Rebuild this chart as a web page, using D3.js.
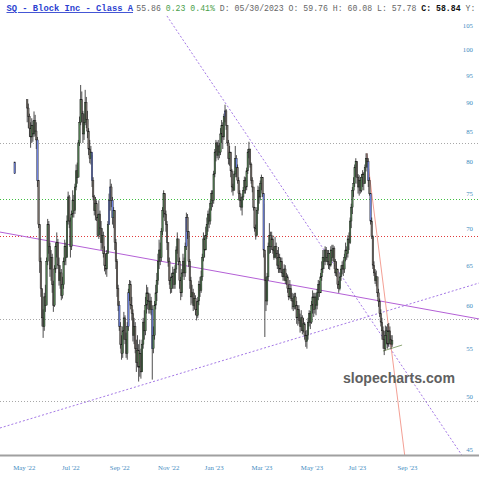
<!DOCTYPE html>
<html>
<head>
<meta charset="utf-8">
<script src="https://cdnjs.cloudflare.com/ajax/libs/d3/7.8.5/d3.min.js"></script>
<style>
  body { margin: 0; background: #fff; }
  svg { display: block; }
</style>
</head>
<body>
<div id="chart"></div>
<script>
// daily bars, index 0 is a lone early print, then a gap
const closes = [78.1,
  null, null, null, null, null, null, null, null, null, null,
  89.0, 87.5, 85.5, 84.0, 86.0, 84.5, 86.8, 85.0, 83.5,
  77.0, 70.5, 65.5, 62.0, 58.5, 57.5, 61.0, 60.0, 65.5, 70.5,
  67.5, 64.5, 66.0, 62.5, 60.0, 64.5, 67.5, 68.0, 65.0, 63.0,
  64.0, 61.2, 62.5, 65.5, 67.5, 66.0, 71.0, 74.5, 71.0, 67.5,
  72.0, 74.0, 72.5, 76.0, 78.5, 77.5, 83.0, 86.5, 90.5, 88.0,
  84.5, 86.5, 90.0, 87.0, 85.0, 82.0, 80.5, 81.5, 77.0, 74.5,
  72.5, 73.5, 71.5, 69.0, 72.0, 70.0, 68.0, 69.0, 66.5, 65.0,
  64.5, 66.5, 70.5, 74.0, 76.0, 74.0, 71.5, 72.5, 68.0, 65.5,
  62.0, 60.0, 57.5, 55.5, 54.5, 57.0, 58.5, 56.0, 54.5, 57.5,
  61.5, 62.5, 60.0, 59.0, 56.5, 57.5, 55.0, 53.5, 54.8, 53.0,
  54.5, 52.5, 55.5, 58.0, 57.0, 60.0, 61.5, 60.5, 59.5, 60.5,
  59.5, 55.0, 56.5, 60.0, 61.5, 63.0, 65.5, 67.0, 66.0, 69.5,
  72.5, 75.0, 72.0, 70.5, 68.0, 65.5, 63.0, 62.0, 63.5, 64.0,
  62.5, 64.5, 67.0, 68.5, 65.5, 63.0, 61.5, 64.0, 65.5, 64.0,
  67.5, 71.5, 69.5, 65.5, 63.0, 61.0, 61.5, 60.0, 60.8, 59.5,
  58.8, 60.5, 62.5, 61.8, 63.5, 66.0, 68.5, 67.0, 69.0, 70.5,
  72.0, 71.0, 73.5, 75.0, 74.0, 78.0, 81.5, 83.0, 81.0, 82.5,
  81.5, 84.5, 86.0, 84.0, 87.5, 88.5, 86.0, 83.0, 80.5, 81.5,
  78.5, 76.0, 75.5, 78.0, 80.5, 79.0, 77.0, 75.0, 74.0, 73.0,
  74.5, 75.5, 77.0, 76.0, 78.5, 81.5, 82.0, 79.5, 77.0, 76.0,
  73.0, 70.0, 69.0, 72.5, 75.5, 74.5, 76.5, 77.5, 75.0, 67.0,
  63.0, 60.5, 63.5, 67.5, 69.0, 67.5, 68.5, 67.0, 66.0, 67.5,
  66.5, 65.0, 66.0, 64.5, 65.5, 64.0, 63.5, 64.5, 63.0, 63.5,
  62.0, 61.0, 62.0, 60.8, 60.5, 59.8, 61.0, 60.0, 58.5, 59.5,
  58.2, 57.5, 58.5, 57.0, 57.8, 56.5, 55.8, 56.5, 58.0, 59.0,
  58.0, 60.0, 61.0, 59.5, 61.0, 60.0, 61.5, 62.5, 61.5, 63.5,
  64.5, 66.0, 65.5, 67.0, 66.0, 65.5, 66.5, 65.0, 67.0, 66.0,
  67.2, 65.5, 64.0, 64.5, 62.5, 62.0, 63.5, 64.5, 65.0, 64.5,
  66.0, 67.0, 66.5, 68.5, 68.0, 71.0, 73.0, 75.5, 76.5, 79.0,
  80.0, 77.5, 76.0, 77.0, 75.5, 77.5, 78.0, 76.5, 79.0, 80.5,
  80.0, 77.0, 75.0, 71.0, 68.8, 65.0, 64.0, 63.0, 63.5, 61.5,
  60.5, 59.0, 58.0, 57.0, 56.0, 55.0, 56.5, 57.0, 55.5, 57.0,
  56.0, 55.5, 55.9];

const highs = [79.9,
  null, null, null, null, null, null, null, null, null, null,
  90.5, 89.8, 88.0, 86.5, 87.2, 86.8, 88.4, 87.8, 86.5,
  84.0, 76.0, 70.5, 66.0, 62.0, 59.5, 61.5, 62.5, 66.0, 71.3,
  71.0, 68.0, 67.0, 66.5, 63.0, 65.0, 68.0, 69.4, 68.5, 66.0,
  65.0, 64.5, 63.5, 66.0, 68.4, 68.0, 71.8, 75.3, 74.8, 71.5,
  72.5, 75.5, 74.8, 76.5, 79.5, 79.8, 83.5, 87.5, 93.2, 92.0,
  88.5, 88.0, 92.3, 91.0, 88.5, 85.5, 83.5, 82.5, 81.0, 77.5,
  74.8, 74.5, 74.0, 72.0, 74.0, 72.5, 71.0, 70.0, 69.5, 67.5,
  66.5, 67.0, 71.0, 75.0, 77.2, 76.5, 74.5, 73.0, 72.5, 68.5,
  65.8, 62.5, 60.5, 58.0, 56.5, 57.5, 59.2, 58.8, 56.8, 58.0,
  62.0, 63.1, 63.0, 61.0, 59.5, 58.5, 58.0, 56.0, 56.5, 55.5,
  56.0, 55.0, 56.0, 58.5, 59.4, 61.0, 62.5, 62.2, 61.5, 61.4,
  61.0, 60.0, 57.5, 60.5, 62.5, 64.0, 66.5, 68.4, 68.0, 70.0,
  73.0, 75.5, 75.0, 72.5, 71.0, 68.0, 66.0, 63.5, 64.0, 64.8,
  64.5, 65.0, 67.5, 69.4, 68.5, 66.0, 63.5, 64.5, 66.5, 66.0,
  68.0, 72.2, 72.0, 69.5, 65.8, 63.5, 62.5, 62.0, 61.5, 61.2,
  60.5, 61.0, 63.0, 63.5, 64.3, 66.5, 69.4, 69.0, 70.2, 71.5,
  72.5, 72.8, 74.0, 75.5, 75.5, 78.5, 82.0, 83.5, 83.2, 83.5,
  83.0, 85.5, 86.9, 86.5, 88.0, 89.6, 88.8, 86.0, 83.5, 82.5,
  81.5, 78.8, 76.5, 78.5, 82.5, 81.0, 79.5, 77.5, 75.5, 74.5,
  75.0, 76.0, 77.6, 77.5, 79.0, 82.0, 83.2, 82.0, 79.8, 77.5,
  76.0, 73.0, 70.5, 73.0, 76.2, 76.0, 77.0, 77.9, 77.5, 73.5,
  66.5, 63.5, 64.0, 68.0, 70.7, 69.5, 69.5, 69.0, 67.5, 68.8,
  68.0, 67.0, 67.4, 66.5, 66.0, 66.0, 64.5, 65.1, 65.0, 64.0,
  63.8, 62.5, 63.1, 62.5, 61.5, 61.4, 61.5, 61.5, 60.5, 60.0,
  60.0, 59.0, 59.4, 58.8, 58.5, 58.0, 57.0, 57.1, 58.5, 59.4,
  59.3, 60.5, 61.8, 61.5, 61.5, 61.5, 62.0, 63.1, 63.0, 64.0,
  65.5, 67.0, 67.0, 67.5, 67.4, 67.0, 67.0, 66.6, 67.5, 67.7,
  67.7, 67.5, 65.8, 65.5, 64.5, 63.0, 64.0, 65.0, 65.5, 65.7,
  66.5, 68.0, 67.5, 69.0, 69.4, 71.5, 73.5, 76.0, 77.5, 79.5,
  80.5, 80.0, 78.0, 77.8, 77.5, 78.0, 78.6, 78.3, 79.5, 81.3,
  81.3, 80.5, 77.5, 75.0, 71.5, 69.0, 65.5, 64.5, 64.3, 63.5,
  62.0, 60.8, 59.5, 58.5, 57.5, 57.0, 57.6, 57.5, 57.8, 57.9,
  57.5, 56.5, 56.5];

const lows = [78.0,
  null, null, null, null, null, null, null, null, null, null,
  86.5, 85.5, 84.0, 82.2, 83.0, 83.2, 84.0, 84.2, 82.0,
  76.0, 70.0, 64.0, 61.0, 57.5, 56.2, 57.0, 59.2, 60.0, 65.0,
  66.5, 63.5, 63.0, 61.5, 59.2, 59.8, 64.0, 66.0, 64.5, 62.4,
  62.0, 60.6, 60.8, 62.0, 65.0, 65.0, 66.0, 70.5, 70.0, 66.0,
  67.0, 71.5, 71.5, 72.0, 75.5, 76.5, 77.5, 82.5, 86.0, 86.5,
  83.0, 83.5, 86.0, 85.5, 83.8, 81.0, 79.7, 79.5, 76.0, 74.0,
  71.8, 71.1, 71.0, 68.8, 68.5, 69.0, 67.0, 67.2, 66.0, 64.2,
  63.8, 63.5, 66.5, 70.5, 72.5, 73.0, 70.5, 70.0, 67.0, 64.5,
  61.0, 59.3, 57.0, 55.0, 53.8, 54.0, 56.0, 55.5, 54.0, 53.8,
  57.0, 60.5, 59.5, 58.2, 55.8, 55.5, 54.5, 52.5, 53.0, 51.5,
  52.0, 51.8, 52.5, 55.0, 56.0, 56.5, 59.0, 59.5, 59.0, 59.0,
  58.8, 51.7, 54.5, 56.0, 59.5, 60.5, 62.5, 64.5, 65.0, 65.5,
  69.0, 71.5, 71.0, 69.5, 67.0, 64.8, 62.5, 61.4, 61.5, 62.0,
  62.0, 62.0, 64.0, 66.5, 65.0, 62.0, 60.6, 61.0, 63.5, 63.1,
  63.5, 67.0, 68.5, 64.8, 62.0, 60.0, 60.2, 59.3, 59.5, 58.8,
  58.2, 58.5, 60.0, 61.0, 61.5, 63.0, 65.5, 66.0, 67.0, 68.5,
  69.5, 70.0, 70.5, 72.5, 73.0, 73.5, 77.5, 80.0, 80.5, 80.2,
  80.5, 81.0, 83.0, 82.0, 83.5, 86.5, 85.2, 82.5, 79.5, 79.3,
  77.5, 75.2, 74.7, 75.5, 77.5, 77.5, 76.5, 74.0, 73.0, 72.5,
  71.8, 74.0, 75.0, 75.0, 75.5, 78.0, 80.5, 79.0, 76.5, 75.2,
  72.5, 69.5, 68.4, 68.8, 72.0, 73.5, 74.0, 75.5, 74.5, 66.0,
  56.3, 59.3, 60.0, 63.0, 66.5, 66.6, 67.0, 66.5, 65.7, 66.0,
  65.8, 64.5, 64.0, 64.0, 64.0, 63.5, 63.0, 63.0, 62.6, 62.5,
  61.5, 60.6, 60.8, 60.5, 59.5, 59.3, 59.5, 59.5, 57.8, 57.6,
  57.8, 56.8, 57.0, 56.6, 56.8, 56.0, 55.2, 55.0, 56.0, 57.5,
  57.2, 57.8, 59.0, 58.6, 59.0, 58.8, 59.5, 60.6, 61.0, 61.5,
  63.0, 64.0, 64.5, 65.0, 65.4, 65.0, 64.5, 64.4, 64.8, 65.5,
  65.5, 64.5, 63.6, 63.5, 62.0, 61.5, 61.8, 63.0, 63.8, 63.6,
  64.0, 65.5, 65.7, 66.0, 67.0, 67.8, 70.0, 72.0, 74.5, 76.0,
  77.5, 76.5, 75.0, 74.7, 75.0, 75.2, 76.0, 75.5, 76.5, 78.4,
  79.0, 76.0, 74.7, 70.5, 68.5, 64.5, 63.6, 62.6, 62.3, 61.0,
  59.8, 58.6, 57.5, 56.0, 55.0, 54.3, 54.8, 55.5, 55.0, 55.2,
  55.5, 55.0, 55.2];

// bars drawn in blue on the original chart
const blueDays = [0, 20, 68, 83, 84, 86, 92, 100, 121, 151, 185, 195, 219, 311, 313];

const tickLabels = ["May '22", "Jul '22", "Sep '22", "Nov '22", "Jan '23", "Mar '23", "May '23", "Jul '23", "Sep '23"];
const tickDays = [8, 49, 92, 135, 175, 217, 261, 301, 345];
const priceTicks = [45, 50, 55, 60, 65, 70, 75, 80, 85, 90, 95, 100, 105];

// horizontal levels (price)
const levels = [82.94, 74.15, 68.94, 58.37, 49.54];

// trend lines as [day, price, day, price]
const trendSolid = [[-13, 69.45, 408.4, 58.37]];
const trendDotted = [[-13, 46.93, 408.4, 62.72], [133.9, 107.0, 393.8, 44.37]];
const trendRed = [[309.6, 81.3, 343.1, 44.37]];
const trendGreen = [[323.9, 54.74, 340.7, 55.4]];

let width = 479, height = 480;

let svg = d3.select("#chart").append("svg")
    .attr("width", width)
    .attr("height", height);

svg.append("rect").attr("width", width).attr("height", height).attr("fill", "#fff");

let x = d3.scaleLinear().domain([0, 345]).range([14.7, 14.7 + 345 * 1.137]);
let y = d3.scaleLog().domain([45, 105]).range([449, 25.4]);

svg.append("defs").append("clipPath").attr("id", "plot")
    .append("rect").attr("x", 0).attr("y", 14).attr("width", width).attr("height", 442);

let plot = svg.append("g").attr("clip-path", "url(#plot)");

// levels, snapped to the pixel grid so the dots stay crisp
let levelColors = ["#a8a8a8", "#3fbf3f", "#e03a3a", "#a8a8a8", "#a8a8a8"];
plot.selectAll("line.level")
    .data(levels)
    .enter().append("line")
    .attr("class", "level")
    .attr("x1", 0).attr("x2", width)
    .attr("y1", d => Math.round(y(d)) + 0.5).attr("y2", d => Math.round(y(d)) + 0.5)
    .attr("stroke", (d, i) => levelColors[i])
    .attr("stroke-width", 1)
    .attr("stroke-dasharray", "1,2");

let drawTrend = (data, color, dash, w) => {
    plot.selectAll(null)
        .data(data)
        .enter().append("line")
        .attr("x1", d => x(d[0])).attr("y1", d => y(d[1]))
        .attr("x2", d => x(d[2])).attr("y2", d => y(d[3]))
        .attr("stroke", color)
        .attr("stroke-width", w)
        .attr("stroke-dasharray", dash);
};

drawTrend(trendSolid, "#b460d6", null, 1);
drawTrend(trendDotted, "#a478e6", "2,2", 1);
drawTrend(trendRed, "#f29488", null, 0.9);
drawTrend(trendGreen, "#8ea876", null, 1);

// candles
let candles = [];
closes.forEach((c, i) => {
    if (c == null) return;
    let prev = i > 0 ? closes[i - 1] : null;
    candles.push({
        i: i,
        open: prev == null ? highs[i] : prev,
        high: highs[i],
        low: lows[i],
        close: c,
        blue: blueDays.includes(i)
    });
});

let bars = plot.append("g").selectAll("g")
    .data(candles)
    .enter().append("g");

bars.append("line")
    .attr("x1", d => x(d.i)).attr("x2", d => x(d.i))
    .attr("y1", d => y(d.high)).attr("y2", d => y(d.low))
    .attr("stroke", "#222")
    .attr("stroke-width", 0.8);

bars.append("rect")
    .attr("x", d => x(d.i) - 0.75)
    .attr("width", 1.5)
    .attr("y", d => y(Math.max(d.open, d.close)))
    .attr("height", d => Math.max(0.6, Math.abs(y(d.open) - y(d.close))))
    .attr("fill", d => d.blue ? "#6f84e0" : (d.close >= d.open ? "#517b51" : "#776f68"))
    .attr("stroke", "#1b1b1b")
    .attr("stroke-width", 0.4);

// watermark
svg.append("text")
    .attr("x", 343).attr("y", 383)
    .attr("textLength", 112)
    .attr("lengthAdjust", "spacingAndGlyphs")
    .style("font-family", "'Liberation Sans', Arial, sans-serif")
    .style("font-weight", "bold")
    .style("font-size", "14.5px")
    .attr("fill", "#606060")
    .text("slopecharts.com");

// axes
let yAxis = svg.append("g")
    .attr("transform", "translate(473,0)")
    .call(d3.axisRight(y).tickValues(priceTicks).tickSize(0).tickFormat(d3.format("d")));
yAxis.select(".domain").remove();
yAxis.selectAll("text")
    .attr("x", 0)
    .attr("text-anchor", "end")
    .attr("fill", "#3f8cbf")
    .style("font-family", "'Liberation Serif', 'Times New Roman', serif")
    .style("font-size", "6.8px");

let xAxis = svg.append("g")
    .attr("transform", "translate(0,462)")
    .call(d3.axisBottom(x).tickValues(tickDays).tickSize(0).tickFormat((d, i) => tickLabels[i]));
xAxis.select(".domain").remove();
xAxis.selectAll("text")
    .attr("y", 7.5)
    .attr("dy", 0)
    .attr("fill", "#3f8cbf")
    .style("font-family", "'Liberation Serif', 'Times New Roman', serif")
    .style("font-size", "6.8px");

svg.append("line")
    .attr("x1", 0).attr("x2", width)
    .attr("y1", 455.5).attr("y2", 455.5)
    .attr("stroke", "#a0a0a0")
    .attr("stroke-width", 2);

// header, cut off at the right edge like the original
svg.append("text")
    .attr("x", 6.5).attr("y", 11)
    .attr("textLength", 126.5)
    .attr("lengthAdjust", "spacingAndGlyphs")
    .style("font-family", "'Liberation Mono', 'Courier New', monospace")
    .style("font-weight", "bold")
    .style("font-size", "8.8px")
    .style("text-decoration", "underline")
    .attr("fill", "#2b3fd0")
    .text("SQ - Block Inc - Class A");

let info = svg.append("text")
    .attr("x", 136.3).attr("y", 11)
    .style("font-family", "'Liberation Mono', 'Courier New', monospace")
    .style("font-size", "8.2px")
    .attr("fill", "#666")
    .attr("xml:space", "preserve");

info.append("tspan").text("55.86 ");
info.append("tspan").attr("fill", "#4aa04a").text("0.23 0.41% ");
info.append("tspan").text("D: 05/30/2023 O: 59.76 H: 60.08 L: 57.78 ");
info.append("tspan").attr("fill", "#111").style("font-weight", "bold").text("C: 58.84 ");
info.append("tspan").text("Y: 91.27");
</script>
</body>
</html>
